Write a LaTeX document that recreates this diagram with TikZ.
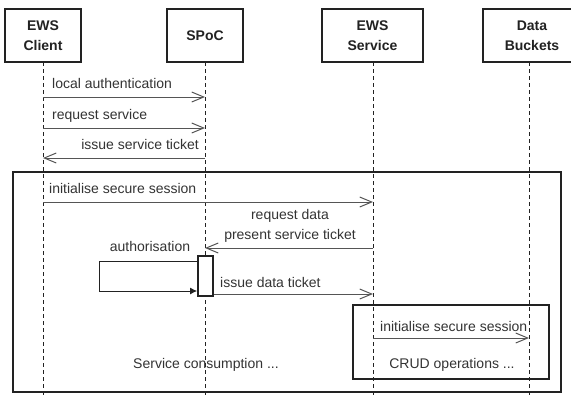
\documentclass[tikz,border=0pt]{standalone}
\usepackage{fontspec}
\setmainfont{Liberation Sans}
\usetikzlibrary{arrows.meta}
\definecolor{ink}{HTML}{222222}
\definecolor{msg}{HTML}{555555}
\definecolor{txt}{HTML}{333333}
\begin{document}
\begin{tikzpicture}[x=1bp,y=-1bp,
  head/.style={draw=ink,line width=1.8bp,fill=white,inner sep=0pt,minimum height=53bp,align=center,
    font=\fontsize{14bp}{20bp}\selectfont\bfseries,text=ink},
  life/.style={draw=ink,line width=0.8bp,dash pattern=on 4bp off 3bp},
  msgline/.style={draw=msg,line width=1bp,-{Straight Barb[length=12bp,width=10bp,line width=1bp]}},
  lbl/.style={inner sep=0pt,font=\fontsize{14bp}{20bp}\selectfont,text=txt},
  frame/.style={draw=ink,line width=1.8bp},
  act/.style={draw=ink,line width=1.8bp,fill=white},
  selfcall/.style={draw=ink,line width=1bp,-{Latex[length=7bp,width=7bp]}}]
\useasboundingbox (0,0) rectangle (571,397);
\clip (0,0) rectangle (571,397);
% lifeline heads
\node[head,minimum width=76bp] (client) at (43,35.5) {EWS\\Client};
\node[head,minimum width=76bp] (spoc) at (205,35.5) {SPoC};
\node[head,minimum width=101bp] (service) at (372.5,35.5) {EWS\\Service};
\node[head,minimum width=98bp] (buckets) at (532,35.5) {Data\\Buckets};
% lifeline coordinates
\coordinate (cT) at (43,62); \coordinate (cB) at (43,397);
\coordinate (pT) at (205,62); \coordinate (pB) at (205,397);
\coordinate (sT) at (373,62); \coordinate (sB) at (373,397);
\coordinate (bT) at (529,62); \coordinate (bB) at (529,397);
% frames
\draw[frame] (13,172) rectangle (561,392);
\draw[frame] (353,305) rectangle (549,379);
% lifelines
\draw[life] (cT) -- (cB);
\draw[life] (pT) -- (pB);
\draw[life] (sT) -- (sB);
\draw[life] (bT) -- (bB);
% message end points
\coordinate (c1) at (43,97);  \coordinate (p1) at (205,97);
\coordinate (c2) at (43,128); \coordinate (p2) at (205,128);
\coordinate (c3) at (43,158); \coordinate (p3) at (205,158);
\coordinate (c4) at (43,202); \coordinate (s4) at (373,202);
\coordinate (s5) at (373,248); \coordinate (p5) at (205,248);
\coordinate (s6) at (373,294);
\coordinate (s7) at (373,338); \coordinate (b7) at (529,338);
% messages
\draw[msgline] (c1) -- (p1);
\node[lbl,anchor=base west] (m1) at (52,88) {local authentication};
\draw[msgline] (c2) -- (p2);
\node[lbl,anchor=base west] (m2) at (52,119) {request service};
\draw[msgline] (p3) -- (c3);
\node[lbl,anchor=base east] (m3) at (199,149) {issue service ticket};
\draw[msgline] (c4) -- (s4);
\node[lbl,anchor=base west] (m4) at (49,193) {initialise secure session};
\draw[msgline] (s5) -- (p5);
\node[lbl,anchor=base] (m5a) at (290,219) {request data};
\node[lbl,anchor=base] (m5b) at (290,239) {present service ticket};
% activation and self call
\node[act,minimum width=15bp,minimum height=40bp,inner sep=0pt] (actv) at (205.5,276) {};
\coordinate (l1) at (99,261); \coordinate (l2) at (99,291);
\draw[selfcall] (actv.west |- l1) -- (l1) -- (l2) -- (actv.west |- l2);
\node[lbl,anchor=base] (m6) at (150,251) {authorisation};
\draw[msgline] (actv.east |- s6) -- (s6);
\node[lbl,anchor=base west] (m7) at (220,287) {issue data ticket};
\draw[msgline] (s7) -- (b7);
\node[lbl,anchor=base west] (m8) at (380,331) {initialise secure session};
\node[lbl,anchor=base] (crud) at (452,368) {CRUD operations ...};
\node[lbl,anchor=base] (cons) at (206,368) {Service consumption ...};
\end{tikzpicture}
\end{document}
